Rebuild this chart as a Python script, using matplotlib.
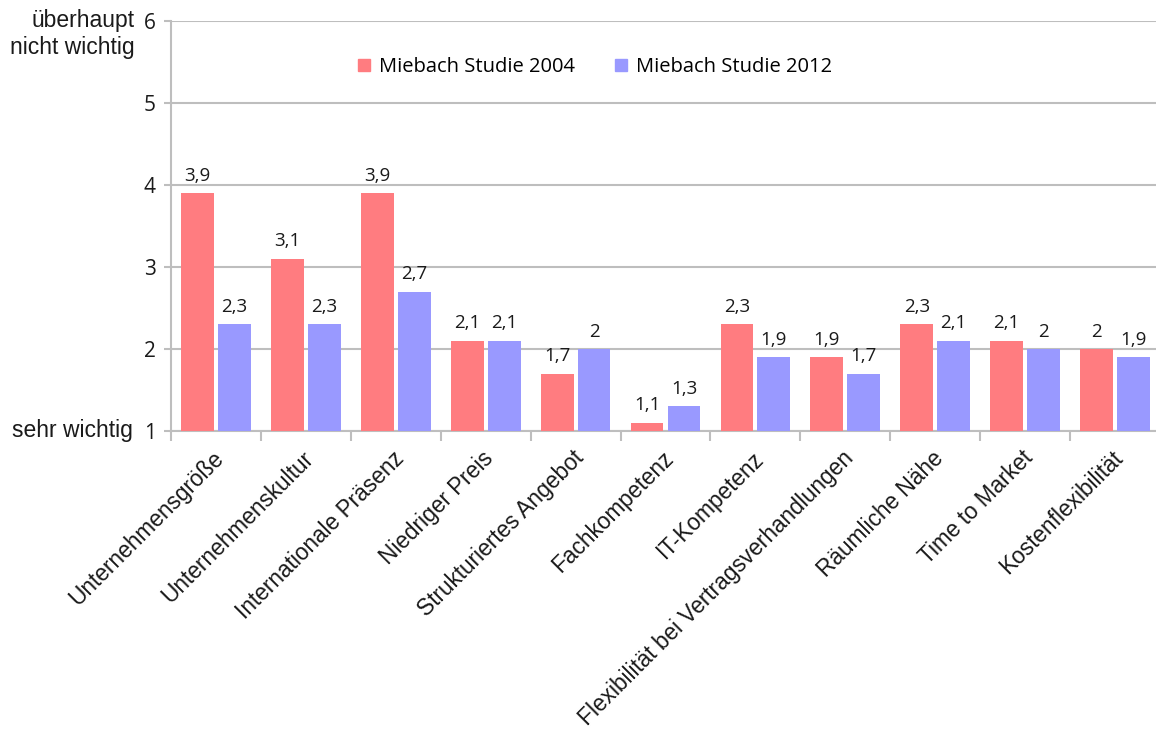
import matplotlib
matplotlib.use("Agg")
import matplotlib.pyplot as plt
import numpy as np
from matplotlib.patches import Patch

categories = [
    "Unternehmensgröße", "Unternehmenskultur", "Internationale Präsenz",
    "Niedriger Preis", "Strukturiertes Angebot", "Fachkompetenz",
    "IT-Kompetenz", "Flexibilität bei Vertragsverhandlungen",
    "Räumliche Nähe", "Time to Market", "Kostenflexibilität",
]
studie_2004 = [3.9, 3.1, 3.9, 2.1, 1.7, 1.1, 2.3, 1.9, 2.3, 2.1, 2.0]
studie_2012 = [2.3, 2.3, 2.7, 2.1, 2.0, 1.3, 1.9, 1.7, 2.1, 2.0, 1.9]
series_names = ["Miebach Studie 2004", "Miebach Studie 2012"]
yticks = [1, 2, 3, 4, 5, 6]

RED = "#FF7C80"
BLUE = "#9999FF"
GRID = "#BEBEBE"
LABEL_FONT = ["Open Sans", "DejaVu Sans"]
AXIS_FONT = ["Liberation Sans", "DejaVu Sans"]

fig = plt.figure(figsize=(11.56, 7.36), dpi=100)
ax = fig.add_axes([171 / 1156, 1 - 431 / 736, (1160 - 171) / 1156, (431 - 21) / 736])
ax.set_xlim(0, len(categories))
ax.set_ylim(1, 6)

x = np.arange(len(categories)) + 0.5
w = 0.365
off = 0.205
base = 1.0
ax.bar(x - off, np.array(studie_2004) - base, w, bottom=base, color=RED, zorder=3)
ax.bar(x + off, np.array(studie_2012) - base, w, bottom=base, color=BLUE, zorder=3)


def fmt(v):
    s = f"{v:.1f}".replace(".", ",")
    return s[:-2] if s.endswith(",0") else s


for xs, vals in ((x - off, studie_2004), (x + off, studie_2012)):
    for xi, v in zip(xs, vals):
        ax.annotate(fmt(v), (xi, v), xytext=(0, 6), textcoords="offset points",
                    ha="center", va="bottom", fontsize=13.5, family=LABEL_FONT,
                    color="#1a1a1a")

# grid and axes
ax.set_yticks(yticks)
ax.yaxis.grid(True, color=GRID, linewidth=1.5, zorder=0)
ax.set_axisbelow(True)
for s in ("top", "right"):
    ax.spines[s].set_visible(False)
ax.spines["left"].set_color(GRID)
ax.spines["left"].set_linewidth(1.5)
ax.spines["bottom"].set_color(GRID)
ax.spines["bottom"].set_linewidth(1.5)
ax.tick_params(axis="y", length=5, width=1.5, color=GRID, pad=6,
               labelsize=15, labelcolor="#1a1a1a")
for lab in ax.get_yticklabels():
    lab.set_family(LABEL_FONT)

# boundary ticks between categories on the x axis
ax.set_xticks(np.arange(0, len(categories) + 1), minor=False)
ax.set_xticklabels([])
ax.tick_params(axis="x", length=7, width=1.5, color=GRID, direction="out")

trans = ax.get_xaxis_transform()
for xi, name in zip(x, categories):
    ax.text(xi + 0.05, -0.058, name, transform=trans, rotation=45,
            rotation_mode="anchor", ha="right", va="center",
            fontsize=16.3, family=AXIS_FONT, color="#1a1a1a")

# scale captions
fig.text(135 / 1156, 1 - 34 / 736, "überhaupt\nnicht wichtig", ha="right",
         va="center", fontsize=16.5, family=AXIS_FONT, color="#1a1a1a",
         linespacing=1.2, multialignment="right")
fig.text(12 / 1156, 1 - 431 / 736, "sehr wichtig", ha="left", va="center",
         fontsize=16.5, family=AXIS_FONT, color="#1a1a1a")

handles = [Patch(color=RED), Patch(color=BLUE)]
fig.legend(handles, series_names, loc="center", bbox_to_anchor=(595 / 1156, 1 - 67 / 736),
           ncol=2, frameon=False, handlelength=0.6, handleheight=0.6,
           handletextpad=0.45, columnspacing=2.0,
           prop={"family": LABEL_FONT, "size": 14.5})

fig.savefig("out.png", dpi=100, facecolor="white")
